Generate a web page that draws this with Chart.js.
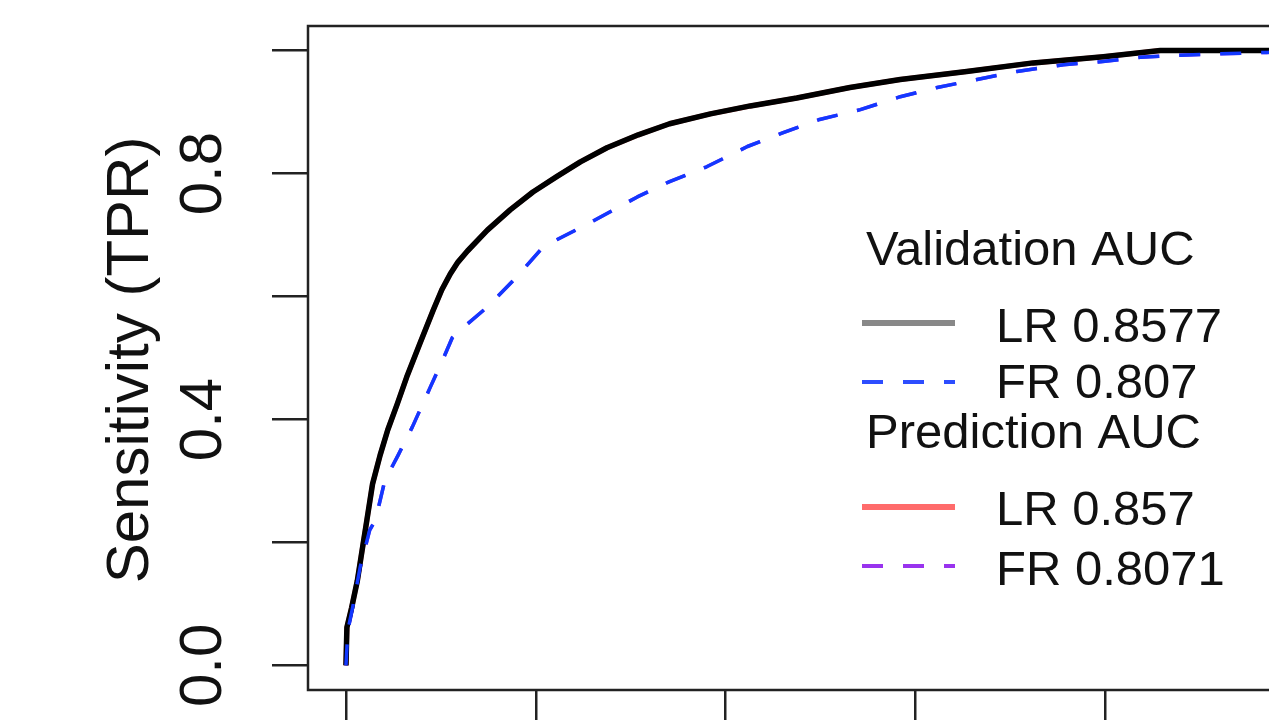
<!DOCTYPE html>
<html lang="en">
<head>
<meta charset="UTF-8">
<title>ROC curves</title>
<script src="https://cdn.jsdelivr.net/npm/chart.js"></script>
<style>
  html, body { margin: 0; padding: 0; overflow: hidden; background: #fff; }
  canvas { display: block; }
</style>
</head>
<body>

<canvas id="roc" width="1400" height="720"></canvas>

<script>
// points: false positive rate vs sensitivity
const lrFpr = [0, 0.001, 0.006, 0.012, 0.017, 0.022, 0.028, 0.036, 0.044, 0.054, 0.064, 0.078, 0.092, 0.101, 0.110, 0.118, 0.128, 0.149, 0.173, 0.197, 0.222, 0.247, 0.275, 0.308, 0.341, 0.384, 0.426, 0.475, 0.531, 0.584, 0.654, 0.724, 0.798, 0.858, 1];
const lrTpr = [0, 0.062, 0.094, 0.138, 0.187, 0.236, 0.295, 0.342, 0.383, 0.425, 0.469, 0.524, 0.578, 0.611, 0.637, 0.656, 0.674, 0.708, 0.741, 0.770, 0.795, 0.819, 0.842, 0.863, 0.881, 0.897, 0.910, 0.923, 0.940, 0.953, 0.966, 0.980, 0.990, 1, 1];

const frFpr = [0, 0.002, 0.007, 0.015, 0.025, 0.031, 0.041, 0.055, 0.070, 0.089, 0.102, 0.112, 0.117, 0.149, 0.180, 0.208, 0.257, 0.307, 0.341, 0.380, 0.423, 0.460, 0.499, 0.542, 0.584, 0.623, 0.665, 0.707, 0.756, 0.795, 0.837, 0.886, 0.970, 1];
const frTpr = [0, 0.057, 0.094, 0.160, 0.220, 0.236, 0.301, 0.342, 0.388, 0.453, 0.497, 0.533, 0.541, 0.583, 0.632, 0.681, 0.720, 0.762, 0.787, 0.811, 0.844, 0.866, 0.888, 0.904, 0.925, 0.940, 0.953, 0.966, 0.977, 0.982, 0.989, 0.993, 0.997, 1];

// prediction curves lie right under the validation ones
const predLrFpr = lrFpr, predLrTpr = lrTpr;
const predFrFpr = frFpr, predFrTpr = frTpr;

const groupTitles = ['Validation AUC', 'Prediction AUC'];
const aucLabels = ['LR 0.8577', 'FR 0.807', 'LR 0.857', 'FR 0.8071'];
const axisTicks = [0, 0.2, 0.4, 0.6, 0.8, 1];
const yTickValues = [0, 0.4, 0.8];
const yTickLabels = ['0.0', '0.4', '0.8'];
const yTitle = 'Sensitivity (TPR)';

const FONT = '"Liberation Sans", Arial, sans-serif';

function pts(xs, ys) {
    return xs.map((x, i) => ({ x: x, y: ys[i] }));
}

const datasets = [
    { label: aucLabels[0], data: pts(lrFpr, lrTpr), borderColor: '#000000', legendColor: '#888888', borderWidth: 5.5, legendWidth: 6, order: 2 },
    { label: aucLabels[1], data: pts(frFpr, frTpr), borderColor: '#1238ff', legendColor: '#2d4dff', borderWidth: 3.5, legendWidth: 4, borderDash: [21, 20], order: 1 },
    { label: aucLabels[2], data: pts(predLrFpr, predLrTpr), borderColor: '#ff6b6b', legendColor: '#ff6b6b', borderWidth: 5, legendWidth: 6, order: 4 },
    { label: aucLabels[3], data: pts(predFrFpr, predFrTpr), borderColor: '#9933ee', legendColor: '#9933ee', borderWidth: 3.5, legendWidth: 4, borderDash: [21, 20], order: 3 }
].map(d => Object.assign({ pointRadius: 0, fill: false, tension: 0, borderCapStyle: 'butt', borderJoinStyle: 'round' }, d));

// R style extras: box, rotated y labels, y title, legend
const rDecor = {
    id: 'rDecor',
    afterDraw(chart) {
        const ctx = chart.ctx;
        const area = chart.chartArea;
        const ys = chart.scales.y;

        ctx.save();
        ctx.strokeStyle = '#222';
        ctx.lineWidth = 2.5;
        ctx.strokeRect(area.left, area.top, area.right - area.left, area.bottom - area.top);

        ctx.fillStyle = '#111';
        ctx.font = '60px ' + FONT;
        ctx.textAlign = 'center';
        ctx.textBaseline = 'alphabetic';
        yTickValues.forEach((v, i) => {
            ctx.save();
            ctx.translate(221, ys.getPixelForValue(v));
            ctx.rotate(-Math.PI / 2);
            ctx.fillText(yTickLabels[i], 0, 0);
            ctx.restore();
        });

        ctx.save();
        ctx.translate(148, (area.top + area.bottom) / 2 + 2);
        ctx.rotate(-Math.PI / 2);
        ctx.fillText(yTitle, 0, 0);
        ctx.restore();

        // legend
        ctx.font = '49px ' + FONT;
        ctx.textAlign = 'left';
        ctx.fillText(groupTitles[0], 866, 265);
        ctx.fillText(groupTitles[1], 866, 448);
        const rows = [
            { ds: 0, lineY: 323, textY: 342 },
            { ds: 1, lineY: 382, textY: 398 },
            { ds: 2, lineY: 507, textY: 525 },
            { ds: 3, lineY: 566, textY: 585 }
        ];
        rows.forEach(r => {
            const d = chart.data.datasets[r.ds];
            ctx.save();
            ctx.strokeStyle = d.legendColor;
            ctx.lineWidth = d.legendWidth;
            ctx.setLineDash(d.borderDash || []);
            ctx.beginPath();
            ctx.moveTo(862, r.lineY);
            ctx.lineTo(955, r.lineY);
            ctx.stroke();
            ctx.restore();
            ctx.fillText(d.label, 996, r.textY);
        });
        ctx.restore();
    }
};

const tickMarks = {
    display: true,
    drawOnChartArea: false,
    drawTicks: true,
    tickLength: 36,
    color: '#222',
    lineWidth: 2.5
};

new Chart(document.getElementById('roc').getContext('2d'), {
    type: 'line',
    data: { datasets: datasets },
    options: {
        responsive: false,
        maintainAspectRatio: false,
        animation: false,
        layout: { padding: { top: 26, right: 67, left: 0, bottom: 0 } },
        plugins: { legend: { display: false }, tooltip: { enabled: false } },
        scales: {
            x: {
                type: 'linear',
                min: -0.04,
                max: 1.04,
                grid: tickMarks,
                border: { display: false },
                ticks: { display: false, autoSkip: false },
                afterBuildTicks: s => { s.ticks = axisTicks.map(v => ({ value: v })); },
                afterFit: s => { s.height = 30; }
            },
            y: {
                type: 'linear',
                min: -0.04,
                max: 1.04,
                grid: tickMarks,
                border: { display: false },
                ticks: { display: false, autoSkip: false },
                afterBuildTicks: s => { s.ticks = axisTicks.map(v => ({ value: v })); },
                afterFit: s => { s.width = 308; }
            }
        }
    },
    plugins: [rDecor]
});
</script>

</body>
</html>
